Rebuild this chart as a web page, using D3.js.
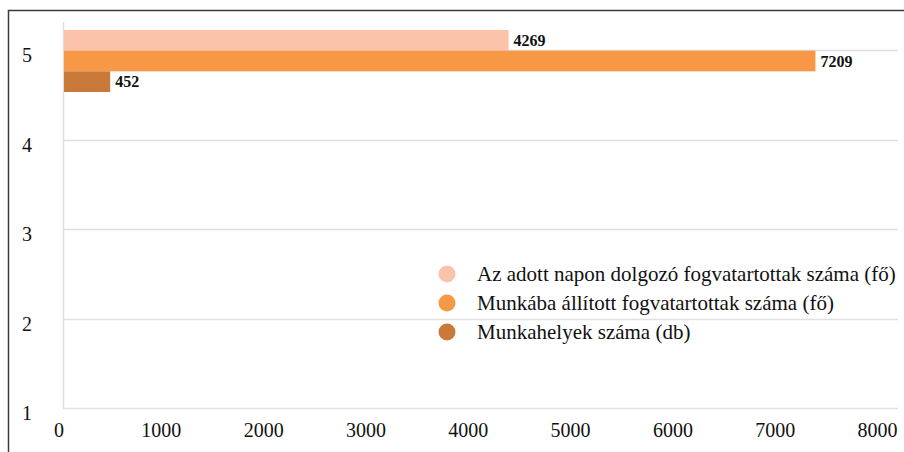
<!DOCTYPE html>
<html>
<head>
<meta charset="utf-8">
<script src="https://cdnjs.cloudflare.com/ajax/libs/d3/7.8.5/d3.min.js"></script>
<style>
  body { margin: 0; background: #fff; }
  svg { font-family: "Liberation Serif", "Times New Roman", serif; }
</style>
</head>
<body>
<script>
// data
var categories = [1, 2, 3, 4, 5];
var seriesNames = [
    "Az adott napon dolgozó fogvatartottak száma (fő)",
    "Munkába állított fogvatartottak száma (fő)",
    "Munkahelyek száma (db)"
];
var seriesValues = [4269, 7209, 452];
var barCategory = 5;
var xTicks = [0, 1000, 2000, 3000, 4000, 5000, 6000, 7000, 8000];
var colors = ["#fbc4aa", "#f79847", "#c97a3a"];

var width = 904, height = 452;

var svg = d3.select("body").append("svg")
    .attr("width", width)
    .attr("height", height);

// outer frame
svg.append("rect")
    .attr("x", 8.5)
    .attr("y", 10.5)
    .attr("width", 910)
    .attr("height", 460)
    .attr("fill", "none")
    .attr("stroke", "#3a3a3a")
    .attr("stroke-width", 1.5);

var x = d3.scaleLinear().domain([0, 8000]).range([63, 898]);
// tick labels in the original sit on a slightly narrower span than the bars
var xLabel = d3.scaleLinear().domain([0, 8000]).range([58.5, 877]);
var y = d3.scaleLinear().domain([1, 5]).range([408, 50]);

// horizontal gridlines
svg.append("g")
    .selectAll("line")
    .data(categories)
    .join("line")
    .attr("x1", x(0))
    .attr("x2", x(8000))
    .attr("y1", function(d) { return Math.round(y(d)) + 0.5; })
    .attr("y2", function(d) { return Math.round(y(d)) + 0.5; })
    .attr("stroke", "#e0e0e0")
    .attr("stroke-width", 1.5);

// left vertical line
svg.append("line")
    .attr("x1", x(0) + 0.5)
    .attr("x2", x(0) + 0.5)
    .attr("y1", 22)
    .attr("y2", y(1))
    .attr("stroke", "#e0e0e0")
    .attr("stroke-width", 1.5);

// y labels
svg.append("g")
    .selectAll("text")
    .data(categories)
    .join("text")
    .attr("x", 27)
    .attr("y", function(d) { return y(d) + 5; })
    .attr("dy", "0.35em")
    .attr("text-anchor", "middle")
    .style("font-size", "20px")
    .attr("fill", "#111")
    .text(function(d) { return d; });

// x axis labels
var xAxis = d3.axisBottom(xLabel).tickValues(xTicks).tickFormat(d3.format("d"))
    .tickSize(0).tickPadding(0);
var gx = svg.append("g")
    .attr("transform", "translate(0,423)")
    .call(xAxis);
gx.select(".domain").remove();
gx.selectAll("text")
    .style("font-size", "20px")
    .style("font-family", "'Liberation Serif', serif")
    .attr("fill", "#111");

// bars
var band = d3.scaleBand()
    .domain(seriesNames)
    .range([y(barCategory) - 20, y(barCategory) + 42]);

svg.append("g")
    .selectAll("rect")
    .data(seriesValues)
    .join("rect")
    .attr("x", x(0) + 1)
    .attr("y", function(d, i) { return band(seriesNames[i]); })
    .attr("width", function(d) { return x(d) - x(0) - 1; })
    .attr("height", band.bandwidth())
    .attr("fill", function(d, i) { return colors[i]; });

svg.append("g")
    .selectAll("text")
    .data(seriesValues)
    .join("text")
    .attr("x", function(d) { return x(d) + 5; })
    .attr("y", function(d, i) { return band(seriesNames[i]) + band.bandwidth() / 2; })
    .attr("dy", "0.35em")
    .style("font-size", "16px")
    .style("font-weight", "bold")
    .attr("fill", "#111")
    .text(function(d) { return d; });

// legend
var legend = svg.append("g")
    .selectAll("g")
    .data(seriesNames)
    .join("g")
    .attr("transform", function(d, i) { return "translate(447," + (274 + i * 29) + ")"; });

legend.append("circle")
    .attr("r", 8.5)
    .attr("fill", function(d, i) { return colors[i]; });

legend.append("text")
    .attr("x", 30)
    .attr("dy", "0.35em")
    .style("font-size", "21px")
    .attr("fill", "#111")
    .text(function(d) { return d; });
</script>
</body>
</html>
